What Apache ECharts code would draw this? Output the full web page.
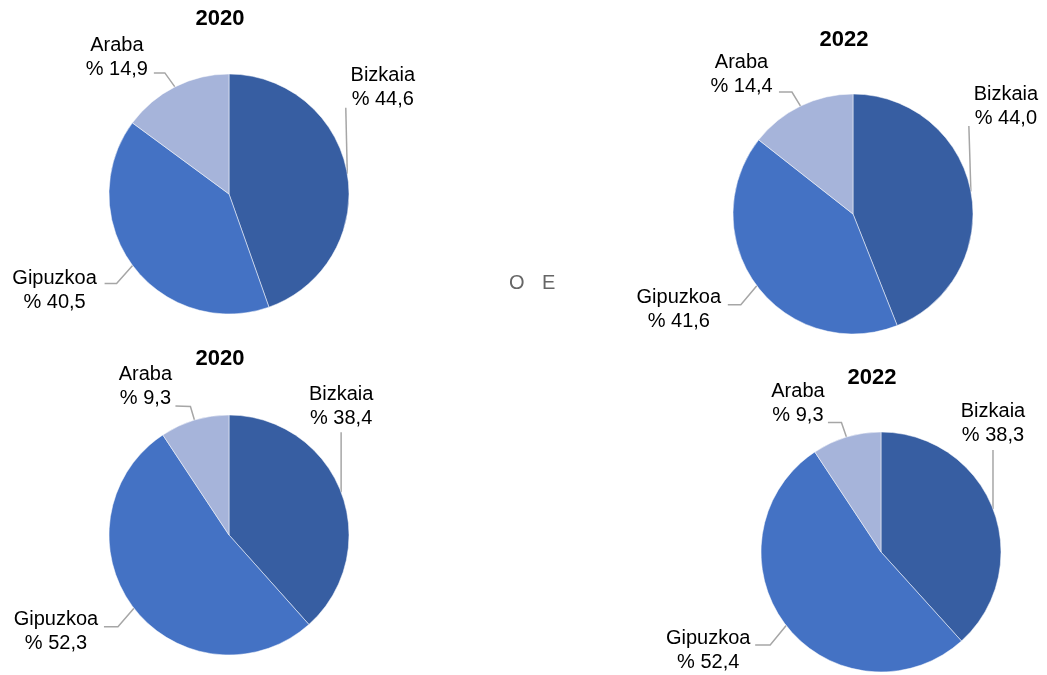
<!DOCTYPE html>
<html>
<head>
<meta charset="utf-8">
<script src="https://cdn.jsdelivr.net/npm/echarts@6/dist/echarts.min.js"></script>
<style>
html,body{margin:0;padding:0;background:#fff;}
#chart{width:1047px;height:675px;}
</style>
</head>
<body>
<div id="chart"></div>
<script>
// ---- data ----
const categories = ['Bizkaia', 'Gipuzkoa', 'Araba'];
const pieTitles = ['2020', '2022', '2020', '2022'];
const valuesTopLeft = [44.6, 40.5, 14.9];
const valuesTopRight = [44.0, 41.6, 14.4];
const valuesBottomLeft = [38.4, 52.3, 9.3];
const valuesBottomRight = [38.3, 52.4, 9.3];
const backgroundText = ['O', 'E'];

const colors = ['#375EA2', '#4472C4', '#A6B4DA'];

// ---- layout (positions only) ----
const pies = [
  { values: valuesTopLeft, center: [229, 194], title: [220, 8],
    labels: [
      { pos: [35.5, -62], line: [[-1.5, -66]] },
      { pos: [-78, 49], line: [[-16, 18], [-28, 18]] },
      { pos: [-58, -5], line: [[-10, -14], [-21, -14]] }
    ] },
  { values: valuesTopRight, center: [853, 214], title: [844, 29],
    labels: [
      { pos: [35, -61.5], line: [[-2, -65.5]] },
      { pos: [-78, 48], line: [[-16, 19], [-29, 19]] },
      { pos: [-59, -8], line: [[-8.6, -14], [-21.6, -14]] }
    ] },
  { values: valuesBottomLeft, center: [229, 535], title: [220, 348],
    labels: [
      { pos: [0, -62], line: [[0, -60]] },
      { pos: [-78, 47], line: [[-16, 18.5], [-30, 18.5]] },
      { pos: [-49, -10], line: [[-4, -13.5], [-19, -14]] }
    ] },
  { values: valuesBottomRight, center: [881, 552], title: [872, 367],
    labels: [
      { pos: [0, -61], line: [[0, -59]] },
      { pos: [-78, 48.5], line: [[-16, 19.5], [-31, 19.5]] },
      { pos: [-48.5, -10], line: [[-5, -14.5], [-18.5, -14.5]] }
    ] }
];

const fmt = v => '% ' + v.toFixed(1).replace('.', ',');
const FONT = "'Liberation Sans', Arial, sans-serif";

const chart = echarts.init(document.getElementById('chart'), null, { renderer: 'canvas' });

const option = {
  backgroundColor: '#ffffff',
  animation: false,
  title: pies.map((p, i) => ({
    text: pieTitles[i],
    left: p.title[0],
    top: p.title[1],
    textAlign: 'center',
    padding: 0,
    textStyle: { fontFamily: FONT, fontWeight: 'bold', fontSize: 22, color: '#000' }
  })),
  graphic: [
    { type: 'text', left: 509, top: 273, style: { text: backgroundText[0], font: "20px " + FONT, fill: '#666666' } },
    { type: 'text', left: 542, top: 273, style: { text: backgroundText[1], font: "20px " + FONT, fill: '#666666' } }
  ],
  series: pies.map((p, si) => ({
    type: 'pie',
    center: p.center,
    radius: 120,
    startAngle: 90,
    clockwise: true,
    avoidLabelOverlap: false,
    itemStyle: { borderColor: '#ffffff', borderWidth: 0.5 },
    data: categories.map((c, i) => ({ name: c, value: p.values[i], itemStyle: { color: colors[i] } })),
    label: {
      show: true,
      position: 'outside',
      overflow: 'none',
      formatter: (d) => d.name + '\n' + fmt(d.value),
      fontFamily: FONT,
      fontSize: 20,
      lineHeight: 24,
      color: '#000'
    },
    labelLine: { show: true, length: 10, length2: 10, lineStyle: { color: '#A6A6A6', width: 1.5 } },
    labelLayout: function (params) {
      const cfg = pies[params.seriesIndex].labels[params.dataIndex];
      const pts = params.labelLinePoints;
      if (!pts || !pts.length) return {};
      const a = pts[0];
      const line = [[a[0], a[1]]].concat(cfg.line.map(q => [a[0] + q[0], a[1] + q[1]]));
      return {
        x: a[0] + cfg.pos[0],
        y: a[1] + cfg.pos[1],
        align: 'center',
        verticalAlign: 'bottom',
        labelLinePoints: line
      };
    },
    emphasis: { disabled: true }
  }))
};
chart.setOption(option);
</script>
</body>
</html>
